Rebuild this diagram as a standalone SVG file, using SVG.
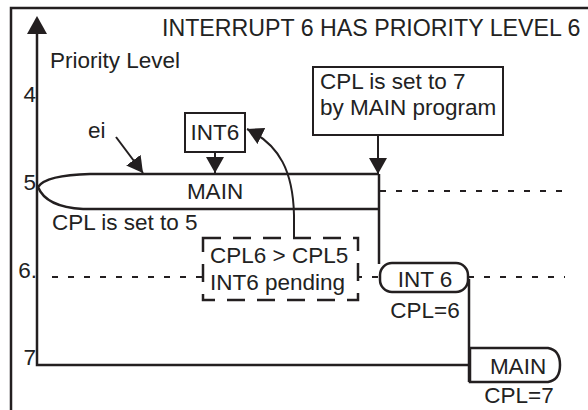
<svg xmlns="http://www.w3.org/2000/svg" width="588" height="410" viewBox="0 0 588 410">
<style>
text{font-family:"Liberation Sans",Arial,sans-serif;font-size:22.5px;fill:#222}
.ln{fill:none;stroke:#231f20;stroke-width:2.5}
.lnw{fill:#fff;stroke:#231f20;stroke-width:2.5}
.th{fill:none;stroke:#231f20;stroke-width:2}
.dot{fill:none;stroke:#231f20;stroke-width:2;stroke-dasharray:6 10}
.box{fill:#fff;stroke:#231f20;stroke-width:2}
</style>
<defs>
<marker id="ah" viewBox="0 0 16 18" refX="16" refY="9" markerWidth="16" markerHeight="18" markerUnits="userSpaceOnUse" orient="auto">
<path d="M0,0 L16,9 L0,18 Z" fill="#231f20"/>
</marker>
</defs>
<rect width="588" height="410" fill="#fff"/>
<g id="frame">
<path class="ln" d="M11,410 V8 H588"/>
</g>
<g id="axis">
<path class="ln" d="M37,32 V365 H470"/>
<path d="M37,16 L27,34 L47,34 Z" fill="#231f20"/>
<text x="50" y="68">Priority Level</text>
<text x="36" y="102" text-anchor="end">4</text>
<text x="36" y="190" text-anchor="end">5</text>
<text x="37" y="278" text-anchor="end">6.</text>
<text x="36" y="365" text-anchor="end">7</text>
</g>
<g id="title">
<text x="162" y="36" style="font-size:23.2px">INTERRUPT 6 HAS PRIORITY LEVEL 6</text>
</g>
<g id="levels">
<path class="dot" d="M380,191 H565"/>
<path class="dot" d="M52,277 H565"/>
</g>
<g id="main5">
<path class="lnw" d="M379,174 H90 Q46,175 38,187 Q46,207 83,209 H379"/>
<text x="215" y="199" text-anchor="middle">MAIN</text>
<text x="52" y="230">CPL is set to 5</text>
</g>
<g id="int6shape">
<path class="ln" d="M379,174 V264"/>
<rect x="380" y="263" width="88" height="29" rx="12" class="lnw"/>
<text x="425" y="287" text-anchor="middle">INT 6</text>
<text x="425" y="318" text-anchor="middle">CPL=6</text>
</g>
<g id="main7">
<path class="ln" d="M469,279 V382"/>
<path class="lnw" d="M470,348 H548 Q560,350 560,365 Q560,380 548,382 H470 Z"/>
<text x="518" y="374" text-anchor="middle">MAIN</text>
<text x="519" y="403" text-anchor="middle">CPL=7</text>
</g>
<g id="int6box">
<rect x="185" y="113" width="60" height="39" class="box"/>
<text x="215" y="140" text-anchor="middle">INT6</text>
</g>
<g id="cpl7box">
<rect x="313" y="67" width="190" height="68" class="box"/>
<text x="320" y="89">CPL is set to 7</text>
<text x="320" y="115">by MAIN program</text>
</g>
<g id="pendingbox">
<rect x="203" y="238" width="155" height="62" fill="#fff" stroke="#231f20" stroke-width="2.5" stroke-dasharray="18 12"/>
<text x="210" y="263">CPL6 &gt; CPL5</text>
<text x="210" y="290">INT6 pending</text>
</g>
<g id="ei">
<text x="88" y="138">ei</text>
</g>
<g id="connectors">
<path class="th" d="M116,137 L143,173" marker-end="url(#ah)"/>
<path class="th" d="M215,152 V173" marker-end="url(#ah)"/>
<path class="th" d="M378,135 V174" marker-end="url(#ah)"/>
<path class="th" d="M294,238 V215 C293,172 280,145 247,129" marker-end="url(#ah)"/>
</g>
</svg>
